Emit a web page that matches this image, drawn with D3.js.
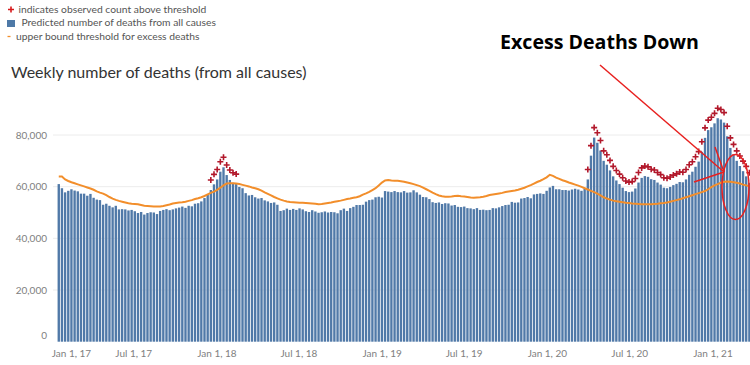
<!DOCTYPE html>
<html>
<head>
<meta charset="utf-8"/>
<title>Weekly number of deaths</title>
<script src="https://d3js.org/d3.v7.min.js"></script>
<style>
  body { margin: 0; background: white; }
  #chart { display: block; }
  .legend text { font-family: Lato, sans-serif; font-size: 10.3px; fill: #555; }
  .axis text { font-family: Lato, sans-serif; font-size: 10px; fill: #808080; }
  .axis path { display: none; }
</style>
</head>
<body>
<svg id="chart" width="750" height="365"></svg>
<script>

// weekly counts in thousands, first week ending Jan 14, 2017
var firstWeek = new Date(2017, 0, 14);

var deaths = [
  61.0, 59.4, 57.8, 58.4, 59.0, 58.5, 58.2, 57.3, 57.3, 56.5,
  57.2, 55.7, 55.0, 54.8, 53.0, 53.4, 52.6, 52.0, 52.6, 51.2,
  51.3, 51.2, 50.8, 51.0, 50.5, 49.8, 50.2, 49.2, 49.8, 50.1,
  50.0, 49.4, 50.6, 51.0, 51.3, 50.9, 51.2, 51.6, 51.9, 52.3,
  51.8, 52.6, 52.4, 53.4, 53.6, 54.3, 55.6, 57.0, 58.7, 60.9,
  62.8, 65.8, 67.5, 64.5, 62.6, 61.5, 61.0, 59.9, 59.4, 57.5,
  56.6, 56.8, 55.9, 55.4, 55.6, 54.7, 54.3, 53.7, 53.9, 53.0,
  50.6, 50.9, 51.5, 51.0, 51.4, 51.0, 51.6, 51.2, 50.5, 50.2,
  50.9, 50.4, 49.9, 50.1, 50.4, 50.0, 50.2, 50.1, 49.7, 50.9,
  51.5, 50.6, 51.7, 52.2, 52.9, 52.9, 53.0, 54.2, 54.8, 55.0,
  55.9, 56.1, 55.8, 58.3, 58.1, 57.9, 58.3, 57.9, 57.8, 58.3,
  57.7, 57.8, 58.6, 57.8, 56.9, 56.0, 55.9, 55.2, 54.0, 53.7,
  53.9, 53.3, 53.6, 53.5, 52.7, 52.9, 52.2, 52.1, 52.3, 51.7,
  51.6, 51.3, 51.7, 51.0, 51.1, 50.9, 51.0, 51.7, 51.6, 52.0,
  52.5, 52.9, 53.0, 54.1, 53.8, 53.9, 55.4, 55.6, 56.0, 55.5,
  57.0, 57.2, 57.4, 57.2, 58.4, 59.7, 60.3, 59.0, 59.0, 58.7,
  58.7, 58.5, 58.9, 59.2, 58.9, 58.4, 59.1, 62.8, 72.0, 79.0,
  77.0, 74.0, 70.0, 68.5, 66.3, 64.0, 62.4, 61.0, 59.6, 58.3,
  57.9, 58.1, 59.3, 61.6, 63.4, 64.1, 63.8, 62.9, 62.6, 61.6,
  60.8, 59.6, 59.4, 59.9, 60.6, 61.1, 61.8, 61.7, 62.8, 64.6,
  65.8, 67.7, 69.7, 73.5, 78.9, 81.9, 83.0, 84.5, 86.5, 86.0,
  84.8, 79.5, 75.0, 72.5, 70.0, 68.0, 66.0, 64.0, 61.5
];

var threshold = [
  63.9, 63.9, 62.8, 62.2, 61.7, 61.3, 60.9, 60.5, 60.1, 59.7,
  59.3, 58.8, 58.2, 57.7, 57.3, 56.7, 56.0, 55.4, 54.9, 54.5,
  54.2, 53.9, 53.6, 53.4, 53.3, 53.2, 52.9, 52.6, 52.5, 52.4,
  52.3, 52.3, 52.3, 52.5, 52.8, 53.1, 53.5, 53.7, 53.9, 54.0,
  54.2, 54.5, 54.8, 55.2, 55.5, 55.9, 56.4, 57.0, 57.6, 58.1,
  58.8, 59.6, 60.5, 61.2, 61.3, 61.3, 61.2, 61.0, 60.7, 60.4,
  60.1, 59.7, 59.4, 59.0, 58.5, 57.8, 57.2, 56.6, 56.0, 55.5,
  55.0, 54.6, 54.3, 54.1, 54.0, 53.9, 53.8, 53.8, 53.7, 53.6,
  53.5, 53.4, 53.2, 53.3, 53.5, 53.7, 53.9, 54.2, 54.4, 54.6,
  54.9, 55.2, 55.4, 55.7, 55.9, 56.3, 56.9, 57.4, 58.0, 58.7,
  59.4, 60.5, 61.6, 62.4, 62.6, 62.4, 62.3, 62.3, 62.1, 61.9,
  61.6, 61.3, 61.0, 60.6, 60.2, 59.6, 59.0, 58.4, 57.7, 57.1,
  56.6, 56.3, 56.1, 56.1, 56.2, 56.4, 56.5, 56.3, 56.2, 56.0,
  55.8, 55.7, 55.8, 55.9, 56.1, 56.4, 56.8, 57.0, 57.2, 57.4,
  57.6, 57.9, 58.1, 58.3, 58.5, 58.8, 59.2, 59.6, 60.1, 60.6,
  61.2, 61.8, 62.3, 62.9, 63.6, 64.6, 64.2, 63.5, 63.0, 62.5,
  62.1, 61.6, 61.2, 60.8, 60.4, 59.9, 59.4, 58.9, 58.4, 57.9,
  57.3, 56.6, 55.9, 55.4, 55.0, 54.6, 54.4, 54.2, 54.0, 53.8,
  53.7, 53.5, 53.4, 53.3, 53.2, 53.2, 53.2, 53.2, 53.3, 53.4,
  53.6, 53.7, 53.9, 54.2, 54.5, 54.8, 55.1, 55.5, 55.9, 56.3,
  56.7, 57.1, 57.5, 57.9, 58.3, 59.0, 59.8, 60.5, 61.0, 61.5,
  61.9, 62.0, 61.9, 61.7, 61.5, 61.2, 60.8, 60.5, 60.2
];

// week index ranges where the observed count is above threshold
var flagged = [[48, 56], [167, 218]];

var yTicks = [0, 20000, 40000, 60000, 80000];

var legendItems = [
  "indicates observed count above threshold",
  "Predicted number of deaths from all causes",
  "upper bound threshold for excess deaths"
];

var title = "Weekly number of deaths (from all causes)";
var note = "Excess Deaths Down";

var data = deaths.map(function(v, i) {
  return {
    date: d3.timeDay.offset(firstWeek, 7 * i),
    value: v * 1000,
    limit: threshold[i] * 1000,
    flag: flagged.some(function(r) { return i >= r[0] && i <= r[1]; })
  };
});

var svg = d3.select("#chart");

var x = d3.scaleTime()
  .domain([new Date(2017, 0, 1), new Date(2021, 0, 1)])
  .range([51.3, 712.5]);
var y = d3.scaleLinear().domain([0, 80000]).range([341.7, 135]);

function cx(d) { return x(d3.timeHour.offset(d.date, 84)); }
var step = x(new Date(2017, 0, 8)) - x(new Date(2017, 0, 1));
var bw = step - 0.8;

// gridlines
svg.append("g").selectAll("line")
  .data(yTicks.filter(function(t) { return t > 0; }))
  .enter().append("line")
  .attr("x1", 53).attr("x2", 750)
  .attr("y1", function(d) { return y(d); })
  .attr("y2", function(d) { return y(d); })
  .attr("stroke", "#ececec").attr("stroke-width", 1);

// bars
svg.append("g").selectAll("rect")
  .data(data)
  .enter().append("rect")
  .attr("x", function(d) { return cx(d) - bw / 2; })
  .attr("y", function(d) { return y(d.value); })
  .attr("width", bw)
  .attr("height", function(d) { return y(0) - y(d.value); })
  .attr("fill", "#5079a8");

// threshold line
var line = d3.line()
  .x(cx)
  .y(function(d) { return y(d.limit); });

svg.append("path")
  .datum(data)
  .attr("d", line)
  .attr("fill", "none")
  .attr("stroke", "#f28e2b")
  .attr("stroke-width", 2);

// crosses
svg.append("g").selectAll("path")
  .data(data.filter(function(d) { return d.flag; }))
  .enter().append("path")
  .attr("transform", function(d) { return "translate(" + cx(d) + "," + (y(d.value) - 10) + ")"; })
  .attr("d", "M-3,0H3M0,-3V3")
  .attr("stroke", "#b2182b")
  .attr("stroke-width", 1.6);

// axes
var yAxis = svg.append("g")
  .attr("class", "axis")
  .attr("transform", "translate(50,0)")
  .call(d3.axisLeft(y).tickValues(yTicks).tickFormat(d3.format(",")).tickSize(0).tickPadding(3));
yAxis.selectAll("text").filter(function(d) { return d === 0; }).attr("dy", "-0.3em");

var xAxis = svg.append("g")
  .attr("class", "axis")
  .attr("transform", "translate(0," + y(0) + ")")
  .call(d3.axisBottom(x).ticks(d3.timeMonth.every(6)).tickFormat(d3.timeFormat("%b %-d, %y")).tickSize(0).tickPadding(8));
xAxis.selectAll("text").filter(function(d, i) { return i === 0; }).attr("text-anchor", "start");

// title
svg.append("text")
  .attr("x", 11).attr("y", 78)
  .attr("font-family", "Lato, sans-serif")
  .attr("font-size", 16)
  .attr("fill", "#333")
  .text(title);

// legend
var legend = svg.append("g").attr("class", "legend");
legend.append("path").attr("d", "M8,9.5H14M11,6.5V12.5").attr("stroke", "#d7191c").attr("stroke-width", 1.6);
legend.append("rect").attr("x", 7).attr("y", 20).attr("width", 8).attr("height", 7).attr("fill", "#4e79a7");
legend.append("line").attr("x1", 7.5).attr("x2", 10.5).attr("y1", 36.5).attr("y2", 36.5).attr("stroke", "#f28e2b").attr("stroke-width", 1.3);
legend.selectAll("text.item")
  .data(legendItems)
  .enter().append("text")
  .attr("class", "item")
  .attr("x", function(d, i) { return [18.5, 21.5, 16][i]; })
  .attr("y", function(d, i) { return 13 + i * 13.3; })
  .text(function(d) { return d; });

// annotation
svg.append("text")
  .attr("x", 500).attr("y", 49)
  .attr("font-family", "'Open Sans', sans-serif")
  .attr("font-weight", "bold")
  .attr("font-size", 19.6)
  .attr("fill", "#000")
  .text(note);

var red = "#e8201f";
[[600, 65], [715, 147], [694, 182]].forEach(function(p) {
  svg.append("line")
    .attr("x1", p[0]).attr("y1", p[1])
    .attr("x2", 724).attr("y2", 172)
    .attr("stroke", red).attr("stroke-width", 1.5);
});
svg.append("ellipse")
  .attr("cx", 735.5).attr("cy", 187)
  .attr("rx", 13.5).attr("ry", 32.5)
  .attr("fill", "none")
  .attr("stroke", red).attr("stroke-width", 1.5);

</script>
</body>
</html>
